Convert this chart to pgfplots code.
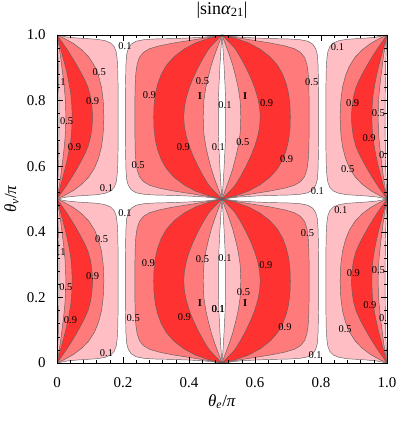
\documentclass[border=0pt]{standalone}
\usepackage{fontspec}
\setmainfont{Liberation Serif}
\usepackage{pgfplots}
\usepackage{pgfplotstable}
\pgfplotsset{compat=1.18}

\definecolor{cPink}{RGB}{255,190,196}
\definecolor{cSalm}{RGB}{255,122,122}
\definecolor{cRed}{RGB}{255,50,50}
\definecolor{cLine}{RGB}{95,95,95}

% one cell [0,0.5]x[0,0.5]; closed loops = outer contour, then inner contour back
% left strip, |sin a21| = 0.1
\pgfplotstableread[row sep=\\]{x y\\
0 0\\ 0.03 0.006\\ 0.06 0.009\\ 0.09 0.011\\ 0.12 0.013\\ 0.145 0.017\\ 0.162 0.024\\ 0.173 0.035\\ 0.179 0.05\\ 0.182 0.07\\ 0.184 0.1\\ 0.185 0.15\\ 0.185 0.2\\ 0.185 0.25\\ 0.185 0.3\\ 0.185 0.35\\ 0.184 0.4\\ 0.182 0.43\\ 0.179 0.45\\ 0.173 0.465\\ 0.162 0.476\\ 0.145 0.483\\ 0.12 0.487\\ 0.09 0.489\\ 0.06 0.491\\ 0.03 0.494\\ 0 0.5\\
0.002 0.46\\ 0.004 0.41\\ 0.005 0.35\\ 0.006 0.25\\ 0.005 0.15\\ 0.004 0.09\\ 0.002 0.04\\ 0 0\\
}\tLpink
% left strip, 0.5
\pgfplotstableread[row sep=\\]{x y\\
0 0\\ 0.025 0.012\\ 0.05 0.026\\ 0.075 0.045\\ 0.097 0.068\\ 0.114 0.095\\ 0.126 0.125\\ 0.135 0.16\\ 0.14 0.2\\ 0.142 0.25\\ 0.14 0.3\\ 0.135 0.34\\ 0.126 0.375\\ 0.114 0.405\\ 0.097 0.432\\ 0.075 0.455\\ 0.05 0.474\\ 0.025 0.488\\ 0 0.5\\
0.005 0.47\\ 0.01 0.44\\ 0.015 0.4\\ 0.02 0.36\\ 0.024 0.32\\ 0.026 0.285\\ 0.027 0.25\\ 0.026 0.215\\ 0.024 0.18\\ 0.02 0.14\\ 0.015 0.1\\ 0.01 0.06\\ 0.005 0.03\\ 0 0\\
}\tLsalm
% left strip, 0.9
\pgfplotstableread[row sep=\\]{x y\\
0 0\\ 0.014 0.02\\ 0.028 0.04\\ 0.042 0.062\\ 0.056 0.085\\ 0.07 0.11\\ 0.083 0.135\\ 0.094 0.16\\ 0.102 0.19\\ 0.106 0.22\\ 0.108 0.25\\ 0.106 0.28\\ 0.102 0.31\\ 0.094 0.34\\ 0.083 0.365\\ 0.07 0.39\\ 0.056 0.415\\ 0.042 0.438\\ 0.028 0.46\\ 0.014 0.48\\ 0 0.5\\
0.008 0.47\\ 0.016 0.44\\ 0.024 0.41\\ 0.031 0.38\\ 0.037 0.35\\ 0.042 0.32\\ 0.045 0.285\\ 0.046 0.25\\ 0.045 0.215\\ 0.042 0.18\\ 0.037 0.15\\ 0.031 0.12\\ 0.024 0.09\\ 0.016 0.06\\ 0.008 0.03\\ 0 0\\
}\tLred
% lens, 0.1
\pgfplotstableread[row sep=\\]{x y\\
0.5 0\\ 0.45 0.006\\ 0.4 0.009\\ 0.35 0.011\\ 0.3 0.012\\ 0.265 0.014\\ 0.24 0.019\\ 0.225 0.028\\ 0.216 0.042\\ 0.211 0.06\\ 0.209 0.09\\ 0.208 0.13\\ 0.207 0.19\\ 0.207 0.25\\ 0.207 0.31\\ 0.208 0.37\\ 0.209 0.41\\ 0.211 0.44\\ 0.216 0.458\\ 0.225 0.472\\ 0.24 0.481\\ 0.265 0.486\\ 0.3 0.488\\ 0.35 0.489\\ 0.4 0.491\\ 0.45 0.494\\ 0.5 0.5\\
0.497 0.46\\ 0.494 0.41\\ 0.491 0.35\\ 0.489 0.3\\ 0.489 0.25\\ 0.489 0.2\\ 0.491 0.15\\ 0.494 0.09\\ 0.497 0.04\\ 0.5 0\\
}\tMpink
% lens, 0.5
\pgfplotstableread[row sep=\\]{x y\\
0.5 0\\ 0.45 0.009\\ 0.4 0.017\\ 0.35 0.025\\ 0.31 0.033\\ 0.28 0.042\\ 0.262 0.053\\ 0.25 0.068\\ 0.243 0.088\\ 0.239 0.115\\ 0.237 0.15\\ 0.236 0.2\\ 0.236 0.25\\ 0.236 0.3\\ 0.237 0.35\\ 0.239 0.385\\ 0.243 0.412\\ 0.25 0.432\\ 0.262 0.447\\ 0.28 0.458\\ 0.31 0.467\\ 0.35 0.475\\ 0.4 0.483\\ 0.45 0.491\\ 0.5 0.5\\
0.489 0.47\\ 0.478 0.44\\ 0.468 0.41\\ 0.459 0.375\\ 0.451 0.34\\ 0.445 0.3\\ 0.443 0.25\\ 0.445 0.2\\ 0.451 0.16\\ 0.459 0.125\\ 0.468 0.09\\ 0.478 0.06\\ 0.489 0.03\\ 0.5 0\\
}\tMsalm
% lens, 0.9
\pgfplotstableread[row sep=\\]{x y\\
0.5 0\\ 0.46 0.01\\ 0.42 0.024\\ 0.385 0.043\\ 0.355 0.066\\ 0.332 0.092\\ 0.316 0.12\\ 0.305 0.15\\ 0.298 0.18\\ 0.294 0.215\\ 0.293 0.25\\ 0.294 0.285\\ 0.298 0.32\\ 0.305 0.35\\ 0.316 0.38\\ 0.332 0.408\\ 0.355 0.434\\ 0.385 0.457\\ 0.42 0.476\\ 0.46 0.49\\ 0.5 0.5\\
0.48 0.48\\ 0.46 0.458\\ 0.443 0.43\\ 0.427 0.4\\ 0.413 0.37\\ 0.401 0.34\\ 0.392 0.31\\ 0.386 0.28\\ 0.384 0.25\\ 0.386 0.22\\ 0.392 0.19\\ 0.401 0.16\\ 0.413 0.13\\ 0.427 0.1\\ 0.443 0.07\\ 0.46 0.042\\ 0.48 0.02\\ 0.5 0\\
}\tMred

% #1 x offset, #2 x sign, #3 y offset
\newcommand\cell[3]{%
\addplot[fill=cPink,draw=cLine,line width=0.45bp,line join=round] table[x expr=#1+(#2)*\thisrow{x},y expr=#3+\thisrow{y}] {\tLpink};
\addplot[fill=cSalm,draw=cLine,line width=0.45bp,line join=round] table[x expr=#1+(#2)*\thisrow{x},y expr=#3+\thisrow{y}] {\tLsalm};
\addplot[fill=cRed,draw=cLine,line width=0.45bp,line join=round] table[x expr=#1+(#2)*\thisrow{x},y expr=#3+\thisrow{y}] {\tLred};
\addplot[fill=cPink,draw=cLine,line width=0.45bp,line join=round] table[x expr=#1+(#2)*\thisrow{x},y expr=#3+\thisrow{y}] {\tMpink};
\addplot[fill=cSalm,draw=cLine,line width=0.45bp,line join=round] table[x expr=#1+(#2)*\thisrow{x},y expr=#3+\thisrow{y}] {\tMsalm};
\addplot[fill=cRed,draw=cLine,line width=0.45bp,line join=round] table[x expr=#1+(#2)*\thisrow{x},y expr=#3+\thisrow{y}] {\tMred};
}
\newcommand\cl[3]{\node[font=\fontsize{10.5}{11}\selectfont,inner sep=0.3bp] at (axis cs:#1,#2) {#3};}

\begin{document}
\begin{tikzpicture}
\begin{axis}[
  width=330bp, height=328bp, scale only axis,
  xmin=0, xmax=1, ymin=0, ymax=1,
  xtick={0,0.2,0.4,0.6,0.8,1}, xticklabels={0,0.2,0.4,0.6,0.8,1.0},
  ytick={0,0.2,0.4,0.6,0.8,1}, yticklabels={0,0.2,0.4,0.6,0.8,1.0},
  minor x tick num=4, minor y tick num=4,
  tick align=inside, tick pos=both,
  major tick length=6bp, minor tick length=3.5bp,
  every tick/.style={black,line width=0.5bp},
  axis line style={black,line width=0.6bp},
  axis on top,
  ticklabel style={font=\fontsize{15}{17}\selectfont},
  xticklabel style={anchor=center,yshift=-20bp},
  yticklabel style={anchor=east,xshift=-8bp},
  title={|sin\textit{α}\textsubscript{21}|},
  title style={font=\fontsize{18}{20}\selectfont,at={(axis description cs:0.5,1.058)},anchor=center},
  xlabel={\textit{θ}\textsubscript{\textit{e}}/\textit{π}},
  xlabel style={font=\fontsize{17}{19}\selectfont,at={(axis description cs:0.5,-0.118)},anchor=center},
  ylabel={\textit{θ}\textsubscript{\textit{ν}}/\textit{π}},
  ylabel style={font=\fontsize{17}{19}\selectfont,at={(axis description cs:-0.138,0.5)},anchor=center},
]
\cell{0}{1}{0}
\cell{0}{1}{0.5}
\cell{1}{-1}{0}
\cell{1}{-1}{0.5}
\coordinate (axbl) at (rel axis cs:0,0);
% contour labels
\cl{0.206}{0.966}{0.1} \cl{0.128}{0.886}{0.5} \cl{0.006}{0.855}{0.1}
\cl{0.108}{0.797}{0.9} \cl{0.28}{0.817}{0.9} \cl{0.441}{0.858}{0.5}
\cl{0.433}{0.814}{\textbf{I}} \cl{0.029}{0.736}{0.5} \cl{0.053}{0.659}{0.9}
\cl{0.383}{0.659}{0.9} \cl{0.489}{0.659}{0.1} \cl{0.246}{0.604}{0.5}
\cl{0.15}{0.533}{0.1}
\cl{0.509}{0.787}{0.1} \cl{0.57}{0.814}{\textbf{I}} \cl{0.635}{0.792}{0.9}
\cl{0.772}{0.855}{0.5} \cl{0.85}{0.964}{0.1} \cl{0.896}{0.792}{0.9}
\cl{0.974}{0.761}{0.5} \cl{0.563}{0.675}{0.5} \cl{0.946}{0.685}{0.9}
\cl{0.996}{0.634}{0.1} \cl{0.696}{0.621}{0.9} \cl{0.881}{0.591}{0.5}
\cl{0.789}{0.525}{0.1}
\cl{0.206}{0.458}{0.1} \cl{0.135}{0.377}{0.5} \cl{0.006}{0.339}{0.1}
\cl{0.277}{0.306}{0.9} \cl{0.441}{0.317}{0.5} \cl{0.108}{0.265}{0.9}
\cl{0.027}{0.23}{0.5} \cl{0.433}{0.182}{\textbf{I}} \cl{0.488}{0.165}{0.1}
\cl{0.041}{0.131}{0.9} \cl{0.231}{0.136}{0.5} \cl{0.386}{0.141}{0.9}
\cl{0.15}{0.029}{0.1}
\cl{0.86}{0.466}{0.1} \cl{0.759}{0.397}{0.5} \cl{0.509}{0.319}{0.1}
\cl{0.633}{0.299}{0.9} \cl{0.898}{0.275}{0.9} \cl{0.974}{0.284}{0.5}
\cl{0.565}{0.217}{0.5} \cl{0.57}{0.182}{\textbf{I}} \cl{0.948}{0.177}{0.9}
\cl{0.489}{0.163}{0.1} \cl{0.996}{0.136}{0.1} \cl{0.691}{0.109}{0.9}
\cl{0.873}{0.102}{0.5} \cl{0.782}{0.024}{0.1}
\end{axis}
\pgfresetboundingbox
\path[use as bounding box] (axbl) ++(-57bp,-58bp) rectangle ++(399bp,421bp);
\end{tikzpicture}
\end{document}
